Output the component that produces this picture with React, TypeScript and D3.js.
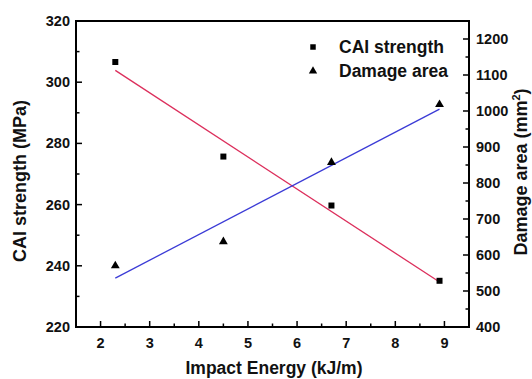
import React, { useEffect, useRef } from 'react';
import * as d3 from 'd3';

// impact energy (kJ/m)
const energy = [2.3, 4.5, 6.7, 8.9];
// CAI strength (MPa)
const caiStrength = [306.6, 275.7, 259.7, 235.1];
// damage area (mm^2)
const damageArea = [570, 637, 857, 1018];

const xTicks = [2, 3, 4, 5, 6, 7, 8, 9];
const leftTicks = [220, 240, 260, 280, 300, 320];
const rightTicks = [400, 500, 600, 700, 800, 900, 1000, 1100, 1200];

const seriesNames = ['CAI strength', 'Damage area'];

// least squares fit, returns [slope, intercept]
function linFit(xs: number[], ys: number[]) {
    const mx = d3.mean(xs) as number;
    const my = d3.mean(ys) as number;
    let sxy = 0;
    let sxx = 0;
    xs.forEach((x, i) => {
        sxy += (x - mx) * (ys[i] - my);
        sxx += (x - mx) * (x - mx);
    });
    const b = sxy / sxx;
    return [b, my - b * mx];
}

const FONT = 'Liberation Sans, Arial, sans-serif';

const App = () => {
    const ref = useRef<SVGSVGElement>(null);

    useEffect(() => {
        if (!ref.current) return;
        const svg = d3.select(ref.current);
        svg.selectAll('*').remove();

        const left = 76, right = 469, top = 21, bottom = 327;

        const x = d3.scaleLinear().domain([1.5, 9.5]).range([left, right]);
        const yL = d3.scaleLinear().domain([220, 320]).range([bottom, top]);
        const yR = d3.scaleLinear().domain([400, 1250]).range([bottom, top]);

        svg.append('rect').attr('width', 532).attr('height', 379).attr('fill', '#fff');

        // frame
        svg.append('rect')
            .attr('x', left).attr('y', top)
            .attr('width', right - left).attr('height', bottom - top)
            .attr('fill', 'none').attr('stroke', '#000').attr('stroke-width', 2);

        const g = svg.append('g').attr('stroke', '#000').attr('stroke-width', 1.5);

        // bottom ticks (inward)
        d3.range(1.5, 9.51, 0.5).forEach(v => {
            const major = Number.isInteger(v);
            if (v <= 1.5 || v >= 9.5) return;
            g.append('line')
                .attr('x1', x(v)).attr('x2', x(v))
                .attr('y1', bottom).attr('y2', bottom - (major ? 6 : 3.5));
        });
        // left ticks
        d3.range(230, 320, 10).forEach(v => {
            const major = v % 20 === 0;
            g.append('line')
                .attr('x1', left).attr('x2', left + (major ? 6 : 3.5))
                .attr('y1', yL(v)).attr('y2', yL(v));
        });
        // right ticks
        d3.range(450, 1250, 50).forEach(v => {
            const major = v % 100 === 0;
            g.append('line')
                .attr('x1', right).attr('x2', right - (major ? 6 : 3.5))
                .attr('y1', yR(v)).attr('y2', yR(v));
        });

        const labelStyle = (sel: any) => sel
            .attr('font-family', FONT)
            .attr('font-weight', 'bold')
            .attr('font-size', 14.5)
            .attr('fill', '#111');

        svg.append('g').selectAll('text').data(xTicks).enter().append('text')
            .call(labelStyle)
            .attr('x', d => x(d)).attr('y', 348)
            .attr('text-anchor', 'middle')
            .text(d => d);

        svg.append('g').selectAll('text').data(leftTicks).enter().append('text')
            .call(labelStyle)
            .attr('x', left - 6).attr('y', d => yL(d) + 5)
            .attr('text-anchor', 'end')
            .text(d => d);

        svg.append('g').selectAll('text').data(rightTicks).enter().append('text')
            .call(labelStyle)
            .attr('x', right + 7).attr('y', d => yR(d) + 5)
            .attr('text-anchor', 'start')
            .text(d => d);

        // axis titles
        const titleStyle = (sel: any, size: number) => sel
            .attr('font-family', FONT)
            .attr('font-weight', 'bold')
            .attr('font-size', size)
            .attr('fill', '#111');

        svg.append('text').call(titleStyle, 17.5)
            .attr('x', 274).attr('y', 374)
            .attr('text-anchor', 'middle')
            .text('Impact Energy (kJ/m)');

        svg.append('text').call(titleStyle, 18)
            .attr('transform', 'translate(26,181) rotate(-90)')
            .attr('text-anchor', 'middle')
            .text('CAI strength (MPa)');

        const rt = svg.append('text').call(titleStyle, 18)
            .attr('transform', 'translate(527,172) rotate(-90)')
            .attr('text-anchor', 'middle');
        rt.append('tspan').text('Damage area (mm');
        rt.append('tspan').attr('font-size', 11).attr('dy', -7).text('2');
        rt.append('tspan').attr('dy', 7).text(')');

        // fit lines
        const [bL, aL] = linFit(energy, caiStrength);
        const [bR, aR] = linFit(energy, damageArea);
        const x0 = d3.min(energy) as number;
        const x1 = d3.max(energy) as number;

        svg.append('line')
            .attr('x1', x(x0)).attr('y1', yL(aL + bL * x0))
            .attr('x2', x(x1)).attr('y2', yL(aL + bL * x1))
            .attr('stroke', '#dc2f5c').attr('stroke-width', 1.3);

        svg.append('line')
            .attr('x1', x(x0)).attr('y1', yR(aR + bR * x0))
            .attr('x2', x(x1)).attr('y2', yR(aR + bR * x1))
            .attr('stroke', '#3b3bd6').attr('stroke-width', 1.3);

        const sq = d3.symbol(d3.symbolSquare, 36);
        const tri = d3.symbol(d3.symbolTriangle, 34);

        svg.append('g').selectAll('path').data(energy).enter().append('path')
            .attr('d', sq)
            .attr('transform', (d, i) => `translate(${x(d)},${yL(caiStrength[i])})`)
            .attr('fill', '#000');

        svg.append('g').selectAll('path').data(energy).enter().append('path')
            .attr('d', tri)
            .attr('transform', (d, i) => `translate(${x(d)},${yR(damageArea[i])})`)
            .attr('fill', '#000');

        // legend
        const lg = svg.append('g').attr('transform', 'translate(313,47)');
        lg.append('path').attr('d', d3.symbol(d3.symbolSquare, 30)).attr('fill', '#000');
        lg.append('path').attr('d', d3.symbol(d3.symbolTriangle, 30))
            .attr('transform', 'translate(0,24)').attr('fill', '#000');
        lg.selectAll('text').data(seriesNames).enter().append('text')
            .call(titleStyle, 17.5)
            .attr('x', 26).attr('y', (d, i) => 6 + i * 24)
            .text(d => d);
    }, []);

    return (
        <svg ref={ref} width={532} height={379}
            style={{ position: 'absolute', left: 0, top: 0, display: 'block' }} />
    );
};

export default App;
